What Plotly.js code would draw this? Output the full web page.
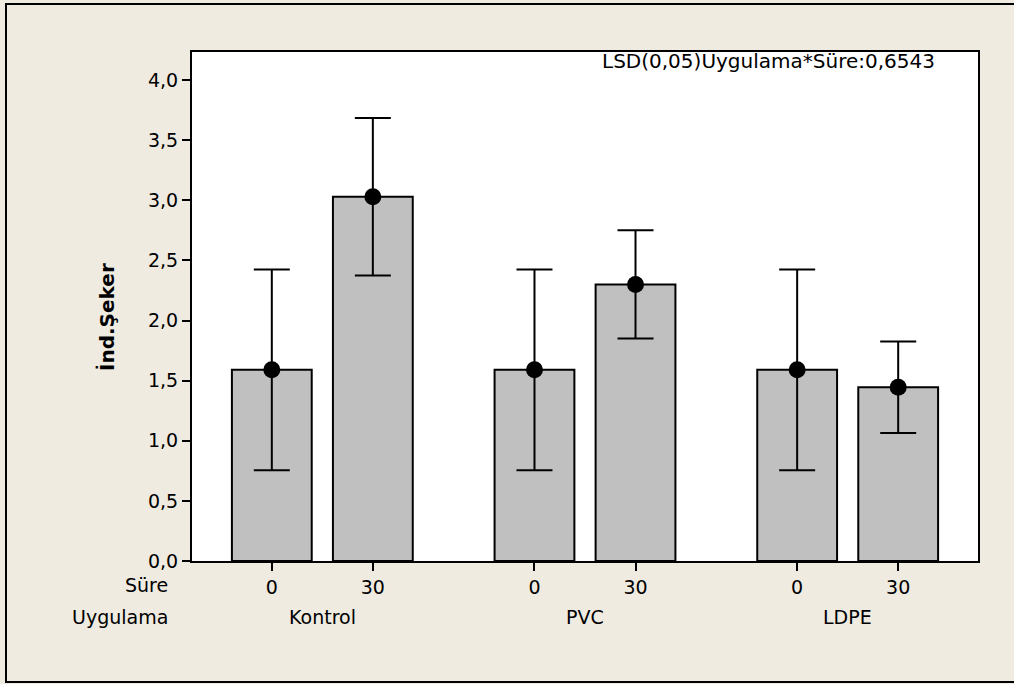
<!DOCTYPE html>
<html>
<head>
<meta charset="utf-8">
<script src="https://cdn.plot.ly/plotly-3.0.1.min.js"></script>
<style>
  html, body { margin: 0; padding: 0; background: #efebe1; overflow: hidden; }
  #chart { width: 1014px; height: 684px; }
</style>
</head>
<body>
<div id="chart"></div>
<script>
// ---- data ----
const groups = ['Kontrol', 'PVC', 'LDPE'];          // Uygulama
const times = ['0', '30'];                            // Süre
const means = [1.59, 3.03, 1.59, 2.30, 1.59, 1.445];  // İnd.Şeker
const errs  = [0.835, 0.655, 0.835, 0.45, 0.835, 0.38];
const yTickVals = [0, 0.5, 1, 1.5, 2, 2.5, 3, 3.5, 4];
const yTickText = ['0,0', '0,5', '1,0', '1,5', '2,0', '2,5', '3,0', '3,5', '4,0'];
const lsdText = 'LSD(0,05)Uygulama*Süre:0,6543';
const yTitle = 'İnd.Şeker';

// ---- layout helpers ----
const groupStep = 2.6;
const xs = [], xt = [];
groups.forEach((g, gi) => times.forEach((t, ti) => { xs.push(gi * groupStep + ti); xt.push(t); }));
const groupCenters = groups.map((g, gi) => gi * groupStep + 0.5);

const FONT = '"DejaVu Sans", sans-serif';
const FS = 19;
const L = 192, R = 978, T = 52, B = 561;
const px = v => (v - L) / (R - L);
const py = v => (B - v) / (B - T);

const traces = [
  {
    type: 'bar', x: xs, y: means, width: 0.79,
    marker: { color: '#c0c0c0', line: { color: '#000', width: 2 } },
    hoverinfo: 'skip', showlegend: false
  },
  {
    type: 'scatter', mode: 'markers', x: xs, y: means,
    marker: { color: '#000', size: 17 },
    error_y: { type: 'data', array: errs, visible: true, color: '#000', thickness: 2, width: 18 },
    showlegend: false
  }
];

const annotations = [
  { text: lsdText, xref: 'paper', yref: 'paper', x: 0.733, y: 0.982, xanchor: 'center', yanchor: 'middle',
    showarrow: false, font: { family: FONT, size: 20, color: '#000' } },
  { text: '<b>' + yTitle + '</b>', xref: 'paper', yref: 'paper', x: px(107), y: py(317),
    xanchor: 'center', yanchor: 'middle', textangle: -90, showarrow: false,
    font: { family: FONT, size: 20, color: '#000' } },
  { text: 'Süre', xref: 'paper', yref: 'paper', x: px(170), y: py(585),
    xanchor: 'right', yanchor: 'middle', showarrow: false, font: { family: FONT, size: FS, color: '#000' } },
  { text: 'Uygulama', xref: 'paper', yref: 'paper', x: px(170), y: py(617),
    xanchor: 'right', yanchor: 'middle', showarrow: false, font: { family: FONT, size: FS, color: '#000' } }
];
groups.forEach((g, gi) => annotations.push({
  text: g, xref: 'x', yref: 'paper', x: groupCenters[gi], y: py(617),
  xanchor: 'center', yanchor: 'middle', showarrow: false, font: { family: FONT, size: FS, color: '#000' }
}));

// outer frame (left, top, bottom edges only; right edge lies beyond the picture)
const frame = {
  type: 'path', xref: 'paper', yref: 'paper', layer: 'above',
  path: `M ${px(1030)} ${py(4)} L ${px(6)} ${py(4)} L ${px(6)} ${py(682)} L ${px(1030)} ${py(682)}`,
  line: { color: '#000', width: 2 }
};
const rightCover = {
  type: 'rect', xref: 'paper', yref: 'paper', layer: 'above',
  x0: px(1003), x1: px(1020), y0: py(681), y1: py(5),
  fillcolor: '#efebe1', line: { width: 0 }
};

const layout = {
  width: 1014, height: 684,
  margin: { l: L, r: 1014 - R, t: T, b: 684 - B, pad: 0 },
  paper_bgcolor: '#efebe1',
  plot_bgcolor: '#ffffff',
  font: { family: FONT, size: FS, color: '#000' },
  xaxis: {
    range: [-0.79, 6.99], tickvals: xs, ticktext: xt, ticks: 'outside', ticklen: 8, tickwidth: 2,
    tickcolor: '#000', showgrid: false, zeroline: false, showline: true, linecolor: '#000', linewidth: 2,
    mirror: true, tickfont: { family: FONT, size: FS, color: '#000' }, fixedrange: true
  },
  yaxis: {
    range: [0, 4.233], tickvals: yTickVals, ticktext: yTickText, ticks: 'outside', ticklen: 8, tickwidth: 2,
    tickcolor: '#000', showgrid: false, zeroline: false, showline: true, linecolor: '#000', linewidth: 2,
    mirror: true, tickfont: { family: FONT, size: FS, color: '#000' }, fixedrange: true
  },
  shapes: [frame, rightCover],
  annotations: annotations,
  bargap: 0
};

Plotly.newPlot('chart', traces, layout, { displayModeBar: false, staticPlot: true });
</script>
</body>
</html>
